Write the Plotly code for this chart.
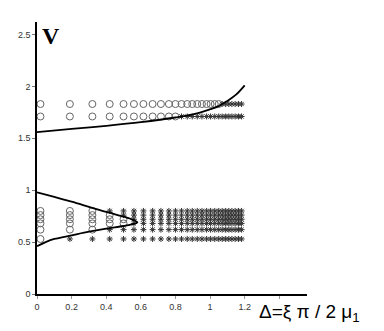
import plotly.graph_objects as go

# column positions of the sampled points (Delta)
cols_x = [0.02, 0.19, 0.32, 0.42, 0.50, 0.56, 0.615, 0.668, 0.716, 0.762, 0.80,
          0.835, 0.868, 0.897, 0.926, 0.953, 0.98, 1.003, 1.027, 1.05, 1.07,
          1.09, 1.108, 1.126, 1.145, 1.164, 1.182]

upper_rows = [1.83, 1.71]
upper_circle_count = [20, 11]          # leading columns drawn as circles

lower_rows = [0.80, 0.76, 0.72, 0.68, 0.62, 0.53]
lower_circle_count = [3, 4, 5, 5, 3, 1]  # leading columns drawn as circles
lower_star_start = [3, 4, 5, 5, 3, 1]

# curves
upper_curve_x = [0, 0.2, 0.4, 0.6, 0.8, 0.9, 1.0, 1.05, 1.1, 1.15, 1.2]
upper_curve_y = [1.56, 1.59, 1.62, 1.655, 1.70, 1.73, 1.78, 1.81, 1.86, 1.92, 2.01]

nose_x = [0, 0.1, 0.2, 0.3, 0.4, 0.5, 0.54, 0.58, 0.56, 0.5, 0.4, 0.3, 0.2, 0.1, 0.05, 0]
nose_y = [0.98, 0.935, 0.89, 0.84, 0.79, 0.745, 0.725, 0.69, 0.675, 0.655, 0.63, 0.60, 0.565, 0.53, 0.50, 0.46]

x_ticks = [0, 0.2, 0.4, 0.6, 0.8, 1.0, 1.2, 1.4]
x_tick_text = ["0", "0.2", "0.4", "0.6", "0.8", "1", "1.2", ""]
y_ticks = [0, 0.5, 1, 1.5, 2, 2.5]
y_tick_text = ["0", "0.5", "1", "1.5", "2", "2.5"]

circ_x, circ_y, star_x, star_y = [], [], [], []
for row, n in zip(upper_rows, upper_circle_count):
    for i, xv in enumerate(cols_x):
        if i < n:
            circ_x.append(xv); circ_y.append(row)
        else:
            star_x.append(xv); star_y.append(row)
for row, n, s in zip(lower_rows, lower_circle_count, lower_star_start):
    for i, xv in enumerate(cols_x):
        if i < n:
            circ_x.append(xv); circ_y.append(row)
        if i >= s:
            star_x.append(xv); star_y.append(row)

fig = go.Figure()
fig.add_trace(go.Scatter(x=circ_x, y=circ_y, mode="markers",
                         marker=dict(symbol="circle-open", size=7, color="#666666",
                                     line=dict(width=1, color="#666666"))))
fig.add_trace(go.Scatter(x=star_x, y=star_y, mode="markers",
                         marker=dict(symbol="asterisk-open", size=5, color="#333333",
                                     line=dict(width=1, color="#333333"))))
fig.add_trace(go.Scatter(x=upper_curve_x, y=upper_curve_y, mode="lines",
                         line=dict(color="black", width=1.8, shape="spline")))
fig.add_trace(go.Scatter(x=nose_x, y=nose_y, mode="lines",
                         line=dict(color="black", width=1.8, shape="spline")))

fig.update_layout(
    width=384, height=331,
    margin=dict(l=37, r=77, t=22, b=37),
    paper_bgcolor="white", plot_bgcolor="white",
    showlegend=False,
    font=dict(family="Arial, Liberation Sans, sans-serif", size=9, color="#333333"),
    xaxis=dict(range=[0, 1.56], tickvals=x_ticks, ticktext=x_tick_text,
               showgrid=False, zeroline=False, showline=True, linecolor="black",
               linewidth=1.5, ticks="outside", ticklen=3, tickcolor="#999999",
               tickfont=dict(size=9, color="#333333")),
    yaxis=dict(range=[0, 2.62], tickvals=y_ticks, ticktext=y_tick_text,
               showgrid=False, zeroline=False, showline=True, linecolor="black",
               linewidth=1.5, ticks="outside", ticklen=3, tickcolor="#777777",
               tickfont=dict(size=9, color="#333333")),
    annotations=[
        dict(text="Δ=ξ π / 2 μ<sub>1</sub>", xref="paper", yref="paper",
             x=0.815, y=-0.07, xanchor="left", yanchor="middle", showarrow=False,
             font=dict(family="Arial, Liberation Sans, sans-serif", size=19, color="black")),
        dict(text="<b>V</b>", xref="paper", yref="paper",
             x=0.012, y=0.95, xanchor="left", yanchor="middle", showarrow=False,
             font=dict(family="Liberation Serif, Times New Roman, serif", size=24, color="black")),
    ],
)

fig.write_html("out.html")
